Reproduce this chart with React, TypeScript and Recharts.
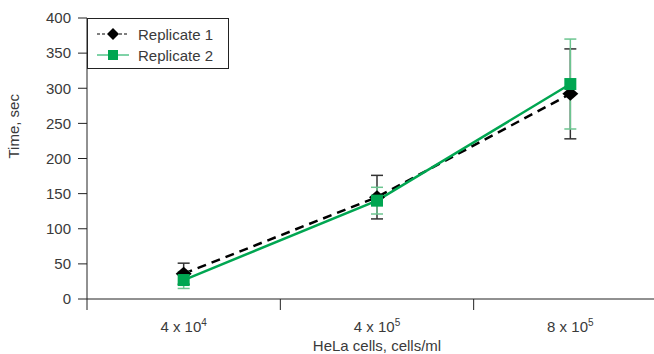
import React from "react";
import { ErrorBar, Legend, Line, LineChart, XAxis, YAxis } from "recharts";

const categories = ["4 x 10^4", "4 x 10^5", "8 x 10^5"];
const categoryPositions = [0.5, 1.5, 2.5];
const replicate1 = [36, 145, 292];
const replicate1Err = [15, 31, 64];
const replicate2 = [27, 140, 306];
const replicate2Err = [12, 19, 64];
const yTicks = [0, 50, 100, 150, 200, 250, 300, 350, 400];
const bandEdges = [0, 1, 2, 3];

const data = categories.map((c, i) => ({
  x: categoryPositions[i],
  name: c,
  r1: replicate1[i],
  e1: replicate1Err[i],
  r2: replicate2[i],
  e2: replicate2Err[i],
}));

const GREEN = "#00a651";
const TEXT = "#3a3a3a";
const FONT = "'Liberation Sans', Arial, sans-serif";

const Diamond = ({ cx, cy }: any) => (
  <polygon
    points={`${cx},${cy - 7} ${cx + 8},${cy} ${cx},${cy + 7} ${cx - 8},${cy}`}
    fill="#000"
  />
);

const Square = ({ cx, cy }: any) => (
  <rect x={cx - 6} y={cy - 6} width={12} height={12} fill={GREEN} />
);

const CategoryTick = ({ x, y, payload }: any) => {
  const idx = categoryPositions.indexOf(payload.value);
  if (idx < 0) return null;
  const [base, exp] = categories[idx].split("^");
  return (
    <text
      x={x}
      y={y + 32}
      textAnchor="middle"
      fill={TEXT}
      fontSize={15}
      fontFamily={FONT}
    >
      {base}
      <tspan fontSize={10} dy={-6}>
        {exp}
      </tspan>
    </text>
  );
};

const LegendBox = () => (
  <div
    style={{
      border: "1px solid #222",
      background: "#fff",
      width: 140,
      height: 49,
      boxSizing: "content-box",
      fontFamily: FONT,
      fontSize: 15,
      color: TEXT,
    }}
  >
    <div style={{ display: "flex", alignItems: "center", height: 20, marginTop: 5 }}>
      <svg width={50} height={14}>
        <line x1={9} y1={7} x2={19} y2={7} stroke="#000" strokeDasharray="3 2" />
        <line x1={31} y1={7} x2={41} y2={7} stroke="#000" strokeDasharray="3 2" />
        <polygon points="25,1 31,7 25,13 19,7" fill="#000" />
      </svg>
      <span>Replicate 1</span>
    </div>
    <div style={{ display: "flex", alignItems: "center", height: 20, marginTop: 1 }}>
      <svg width={50} height={14}>
        <line x1={9} y1={7} x2={41} y2={7} stroke={GREEN} />
        <rect x={20} y={2} width={10} height={10} fill={GREEN} />
      </svg>
      <span>Replicate 2</span>
    </div>
  </div>
);

export default function App() {
  return (
    <div
      style={{
        position: "absolute",
        left: 0,
        top: 0,
        width: 654,
        height: 354,
        overflow: "hidden",
        background: "#fff",
      }}
    >
      <LineChart
        width={670}
        height={354}
        data={data}
        margin={{ top: 18, right: 3, left: 0, bottom: 0 }}
      >
        <XAxis
          dataKey="x"
          type="number"
          domain={[0, 3]}
          ticks={bandEdges}
          tickFormatter={() => ""}
          height={1}
          tickSize={11}
          stroke="#222"
        />
        <XAxis
          xAxisId="labels"
          dataKey="x"
          type="number"
          domain={[0, 3]}
          ticks={categoryPositions}
          axisLine={false}
          tickLine={false}
          tickSize={0}
          tickMargin={0}
          height={54}
          tick={<CategoryTick />}
          label={{
            value: "HeLa cells, cells/ml",
            position: "insideBottom",
            offset: 3,
            fill: TEXT,
            fontSize: 15,
            fontFamily: FONT,
          }}
        />
        <YAxis
          domain={[0, 400]}
          ticks={yTicks}
          width={87}
          tickSize={9}
          tickMargin={7}
          stroke="#222"
          tick={{ fill: TEXT, fontSize: 15, fontFamily: FONT }}
          label={{
            value: "Time, sec",
            angle: -90,
            position: "insideLeft",
            offset: 14,
            fill: TEXT,
            fontSize: 15,
            fontFamily: FONT,
          }}
        />
        <Legend
          layout="vertical"
          align="center"
          verticalAlign="middle"
          wrapperStyle={{ top: 18, left: 87, width: "auto", height: "auto" }}
          content={<LegendBox />}
        />
        <Line
          dataKey="r1"
          name="Replicate 1"
          stroke="#000"
          strokeWidth={2.5}
          strokeDasharray="9 6"
          dot={(p: any) => <Diamond key={`d${p.index}`} {...p} />}
          activeDot={false}
          isAnimationActive={false}
        >
          <ErrorBar dataKey="e1" direction="y" width={6} stroke="#333" strokeWidth={1.5} />
        </Line>
        <Line
          dataKey="r2"
          name="Replicate 2"
          stroke={GREEN}
          strokeWidth={2.5}
          dot={(p: any) => <Square key={`s${p.index}`} {...p} />}
          activeDot={false}
          isAnimationActive={false}
        >
          <ErrorBar dataKey="e2" direction="y" width={6} stroke="#6cc590" strokeWidth={1.5} />
        </Line>
      </LineChart>
    </div>
  );
}
